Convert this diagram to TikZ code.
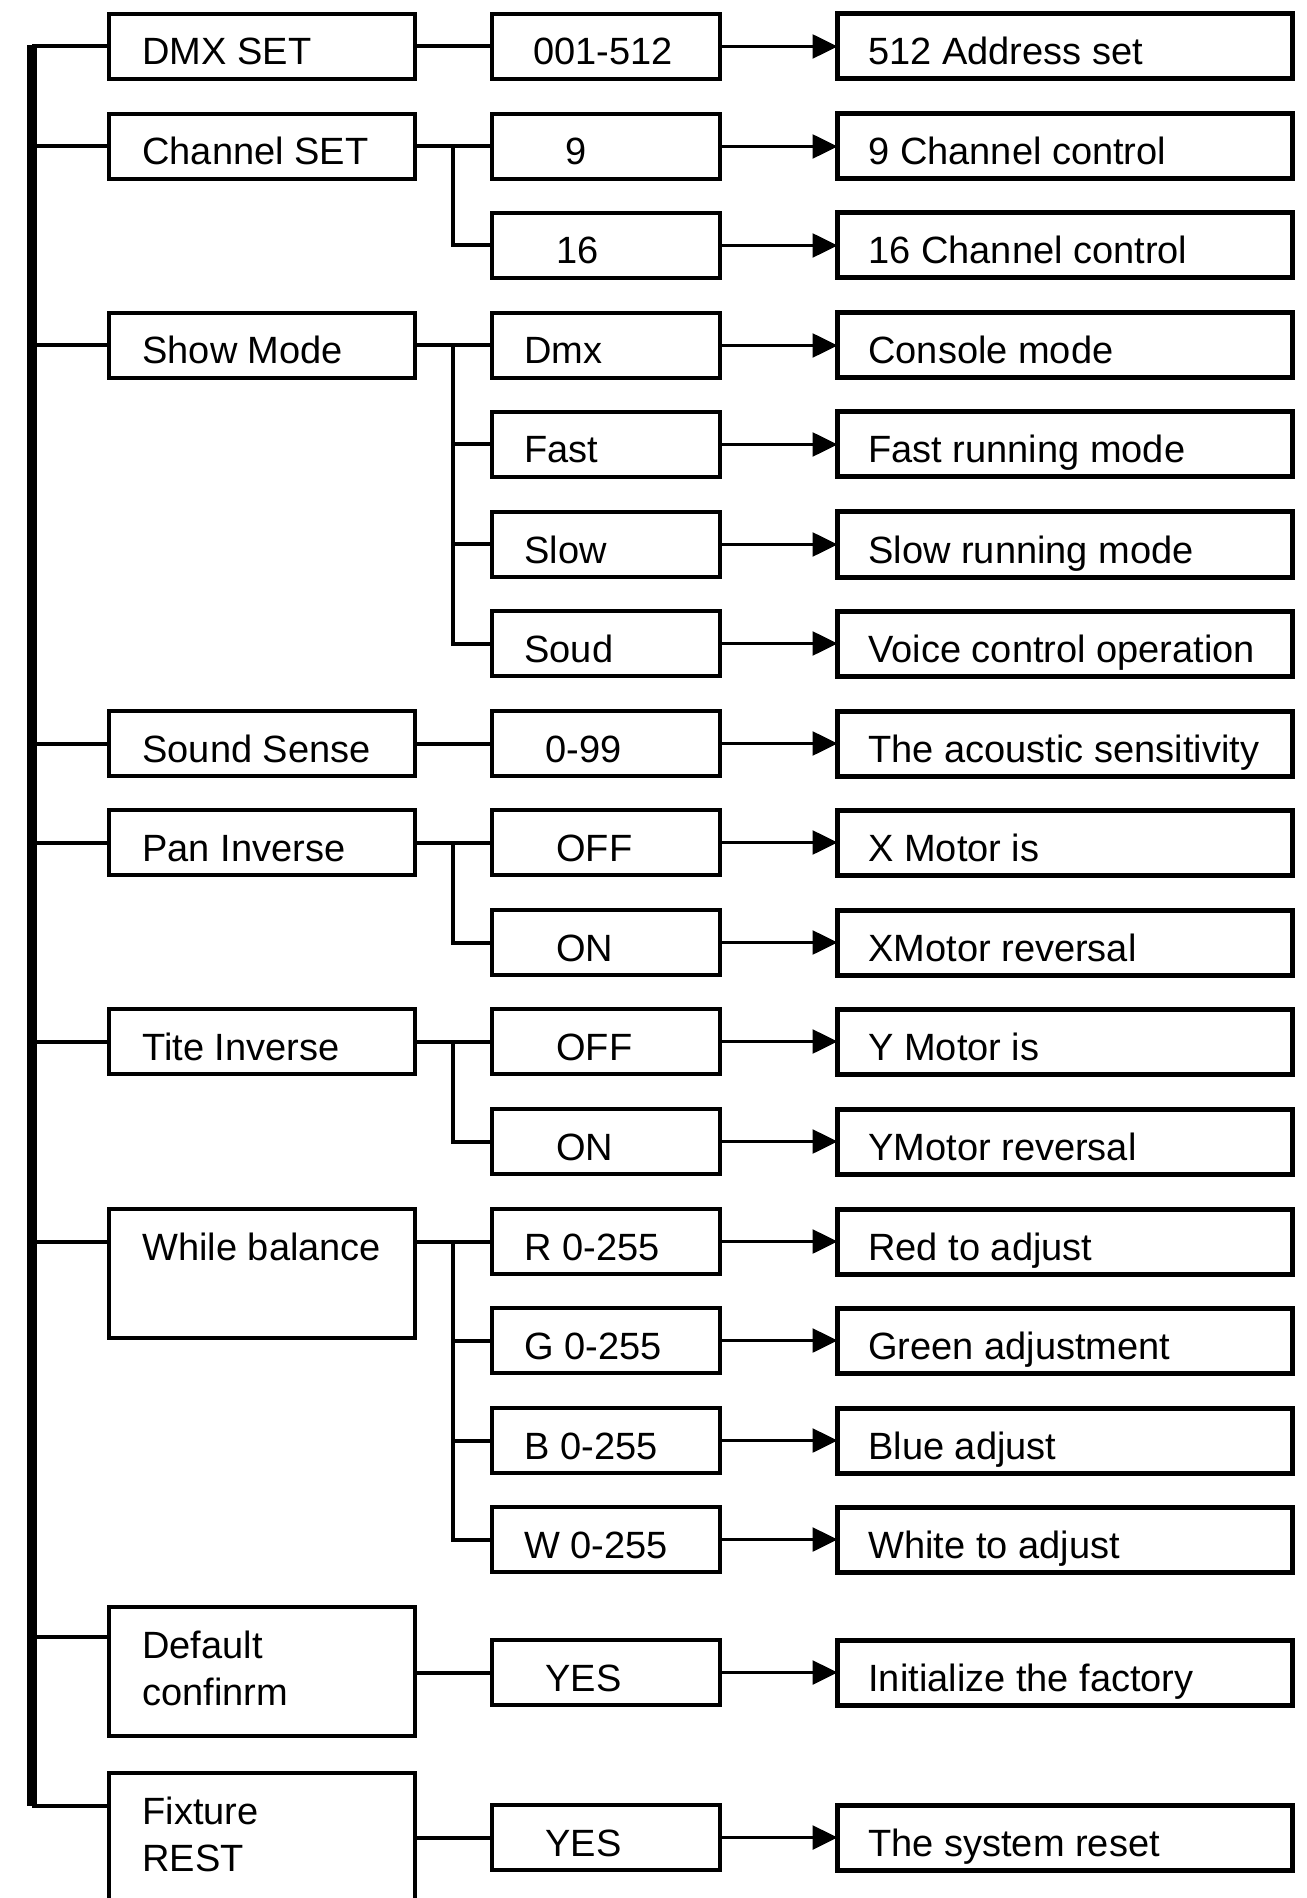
\documentclass[tikz,border=0pt]{standalone}
\usepackage{fontspec}
\setmainfont{Liberation Sans}
\usetikzlibrary{arrows.meta}
\tikzset{
  box/.style={draw, line width=2pt, rectangle, inner sep=0pt, outer sep=0pt, anchor=north west},
  rbox/.style={box, line width=2.5pt},
  txt/.style={inner sep=0pt, anchor=base west, font=\fontsize{19pt}{23.5pt}\selectfont},
  conn/.style={line width=2pt},
  arr/.style={line width=1.3pt, -{Triangle[length=12.5pt,width=12pt]}},
  mainbar/.style={line width=5pt},
}
\newcommand\bx[8]{%
  \node[#2, minimum width=#5*0.5pt, minimum height=#6*0.5pt] (#1) at (#3,#4) {};
  \node[txt] (#1t) at (#7,#4+51) {#8};}
\newcommand\twolines[2]{\begin{tabular}[t]{@{}l@{}}#1\\#2\end{tabular}}
\begin{document}
\begin{tikzpicture}[x=0.5pt,y=-0.5pt]
\useasboundingbox (0,0) rectangle (1306,1898);
\clip (0,0) rectangle (1306,1898);
\fill[white] (0,0) rectangle (1306,1898);

% left column
\bx{L1}{box}{109}{14}{306}{65}{142}{DMX SET}
\bx{L2}{box}{109}{114}{306}{65}{142}{Channel SET}
\bx{L3}{box}{109}{313}{306}{65}{142}{Show Mode}
\bx{L4}{box}{109}{711}{306}{65}{142}{Sound Sense}
\bx{L5}{box}{109}{810}{306}{65}{142}{Pan Inverse}
\bx{L6}{box}{109}{1009}{306}{65}{142}{Tite Inverse}
\bx{L7}{box}{109}{1209}{306}{129}{142}{While balance}
\bx{L8}{box}{109}{1607}{306}{129}{142}{\twolines{Default}{confinrm}}
\bx{L9}{box}{109}{1773}{306}{200}{142}{\twolines{Fixture}{REST}}

% middle column
\bx{M1}{box}{492}{14}{228}{65}{533}{001-512}
\bx{M2a}{box}{492}{114}{228}{65}{565}{9}
\bx{M2b}{box}{492}{213}{228}{65}{556}{16}
\bx{M3a}{box}{492}{313}{228}{65}{524}{Dmx}
\bx{M3b}{box}{492}{412}{228}{65}{524}{Fast}
\bx{M3c}{box}{492}{512}{228}{65}{524}{Slow}
\bx{M3d}{box}{492}{611}{228}{65}{524}{Soud}
\bx{M4}{box}{492}{711}{228}{65}{545}{0-99}
\bx{M5a}{box}{492}{810}{228}{65}{556}{OFF}
\bx{M5b}{box}{492}{910}{228}{65}{556}{ON}
\bx{M6a}{box}{492}{1009}{228}{65}{556}{OFF}
\bx{M6b}{box}{492}{1109}{228}{65}{556}{ON}
\bx{M7a}{box}{492}{1209}{228}{65}{524}{R 0-255}
\bx{M7b}{box}{492}{1308}{228}{65}{524}{G 0-255}
\bx{M7c}{box}{492}{1408}{228}{65}{524}{B 0-255}
\bx{M7d}{box}{492}{1507}{228}{65}{524}{W 0-255}
\bx{M8}{box}{492}{1640}{228}{65}{545}{YES}
\bx{M9}{box}{492}{1805}{228}{65}{545}{YES}

% right column
\bx{R1}{rbox}{837.5}{14}{455}{65}{868}{512 Address set}
\bx{R2a}{rbox}{837.5}{114}{455}{65}{868}{9 Channel control}
\bx{R2b}{rbox}{837.5}{213}{455}{65}{868}{16 Channel control}
\bx{R3a}{rbox}{837.5}{313}{455}{65}{868}{Console mode}
\bx{R3b}{rbox}{837.5}{412}{455}{65}{868}{Fast running mode}
\bx{R3c}{rbox}{837.5}{512}{455}{65}{868}{Slow running mode}
\bx{R3d}{rbox}{837.5}{611}{455}{65}{868}{Voice control operation}
\bx{R4}{rbox}{837.5}{711}{455}{65}{868}{The acoustic sensitivity}
\bx{R5a}{rbox}{837.5}{810}{455}{65}{868}{X Motor is}
\bx{R5b}{rbox}{837.5}{910}{455}{65}{868}{XMotor reversal}
\bx{R6a}{rbox}{837.5}{1009}{455}{65}{868}{Y Motor is}
\bx{R6b}{rbox}{837.5}{1109}{455}{65}{868}{YMotor reversal}
\bx{R7a}{rbox}{837.5}{1209}{455}{65}{868}{Red to adjust}
\bx{R7b}{rbox}{837.5}{1308}{455}{65}{868}{Green adjustment}
\bx{R7c}{rbox}{837.5}{1408}{455}{65}{868}{Blue adjust}
\bx{R7d}{rbox}{837.5}{1507}{455}{65}{868}{White to adjust}
\bx{R8}{rbox}{837.5}{1640}{455}{65}{868}{Initialize the factory}
\bx{R9}{rbox}{837.5}{1805}{455}{65}{868}{The system reset}

% main bar
\coordinate (bartop) at (32,45);
\coordinate (barbot) at (32,1806);
\coordinate (L8j) at (109,1637);
\draw[mainbar] (bartop) -- (barbot);
\foreach \n in {L1,L2,L3,L4,L5,L6}{\draw[conn] (bartop |- \n.west) -- (\n.west);}
\draw[conn] (bartop |- M7a.west) -- (L7.west |- M7a.west);
\draw[conn] (bartop |- L8j) -- (L8j);
\draw[conn] (barbot) -- (L9.west |- barbot);

% branches
\coordinate (bx) at (453,0);
\draw[conn] (L1.east) -- (M1.west);
\draw[conn] (L4.east) -- (M4.west);
\draw[conn] (L8.east |- M8.west) -- (M8.west);
\draw[conn] (L9.east |- M9.west) -- (M9.west);

\draw[conn] (L2.east) -- (M2a.west);
\draw[conn] (bx |- M2a.west) -- (bx |- M2b.west) -- (M2b.west);

\draw[conn] (L3.east) -- (M3a.west);
\draw[conn] (bx |- M3a.west) -- (bx |- M3d.west) -- (M3d.west);
\draw[conn] (bx |- M3b.west) -- (M3b.west);
\draw[conn] (bx |- M3c.west) -- (M3c.west);

\draw[conn] (L5.east) -- (M5a.west);
\draw[conn] (bx |- M5a.west) -- (bx |- M5b.west) -- (M5b.west);

\draw[conn] (L6.east) -- (M6a.west);
\draw[conn] (bx |- M6a.west) -- (bx |- M6b.west) -- (M6b.west);

\draw[conn] (L7.east |- M7a.west) -- (M7a.west);
\draw[conn] (bx |- M7a.west) -- (bx |- M7d.west) -- (M7d.west);
\draw[conn] (bx |- M7b.west) -- (M7b.west);
\draw[conn] (bx |- M7c.west) -- (M7c.west);

% arrows
\foreach \a/\b in {M1/R1,M2a/R2a,M2b/R2b,M3a/R3a,M3b/R3b,M3c/R3c,M3d/R3d,M4/R4,M5a/R5a,M5b/R5b,M6a/R6a,M6b/R6b,M7a/R7a,M7b/R7b,M7c/R7c,M7d/R7d,M8/R8,M9/R9}{\draw[arr] (\a.east) -- (\b.west);}
\end{tikzpicture}
\end{document}
